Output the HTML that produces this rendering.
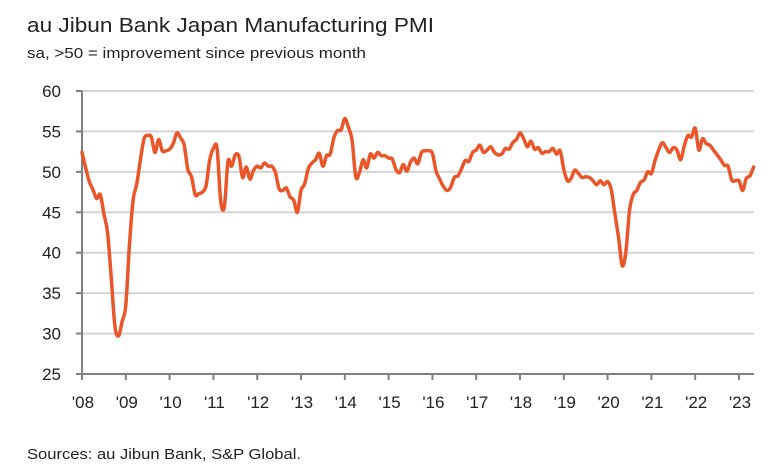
<!DOCTYPE html>
<html><head><meta charset="utf-8"><style>
html,body{margin:0;padding:0;background:#fff;}
svg{display:block;font-family:"Liberation Sans",sans-serif;}
</style></head><body>
<svg id="chart" width="784" height="475" viewBox="0 0 784 475">
<text x="27" y="32" font-size="20" fill="#222" textLength="407" lengthAdjust="spacingAndGlyphs">au Jibun Bank Japan Manufacturing PMI</text>
<text x="27" y="58" font-size="15" fill="#222" textLength="339" lengthAdjust="spacingAndGlyphs">sa, &gt;50 = improvement since previous month</text>
<text x="27" y="459" font-size="15" fill="#222" textLength="274" lengthAdjust="spacingAndGlyphs">Sources: au Jibun Bank, S&amp;P Global.</text>
<g id="grid"></g><g id="axes"></g><g id="series"></g>
</svg>
<script>
const yTicks=[25,30,35,40,45,50,55,60];
const xLabels=["'08","'09","'10","'11","'12","'13","'14","'15","'16","'17","'18","'19","'20","'21","'22","'23"];
const pmi2008=[52.4,50.5,48.8,47.8,46.7,47.2,44.8,42.5,37,31,29.7,31.5];
const pmi2009=[33.5,41,46.5,48.5,51.5,54.1,54.5,54.3,52.4,54,52.6,52.6];
const pmi2010=[52.8,53.5,54.8,54.2,53.3,50.3,49.4,47.2,47.3,47.5,48.3,51.5];
const pmi2011=[52.9,52.9,46.4,45.7,51.3,50.7,52.1,51.9,49.3,50.6,49.1,50.2];
const pmi2012=[50.7,50.5,51.1,50.7,50.7,49.9,47.9,47.7,48.0,46.9,46.5,45.0];
const pmi2013=[47.7,48.5,50.4,51.1,51.5,52.3,50.7,52.0,52.2,54.2,55.1,55.2];
const pmi2014=[56.6,55.5,53.9,49.4,49.9,51.5,50.5,52.2,51.7,52.4,52.0,52.0];
const pmi2015=[51.7,51.6,50.3,49.9,50.9,50.1,51.2,51.7,51.0,52.4,52.6,52.6];
const pmi2016=[52.3,50.1,49.1,48.2,47.7,48.1,49.3,49.5,50.4,51.4,51.3,52.4];
const pmi2017=[52.7,53.3,52.4,52.7,53.1,52.4,52.1,52.2,52.9,52.8,53.6,54.0];
const pmi2018=[54.8,54.1,53.1,53.8,52.8,53.0,52.3,52.5,52.5,52.9,52.2,52.6];
const pmi2019=[50.3,48.9,49.2,50.2,49.8,49.3,49.4,49.3,48.9,48.4,48.9,48.4];
const pmi2020=[48.8,47.8,44.8,41.9,38.4,40.1,45.2,47.2,47.7,48.7,49.0,50.0];
const pmi2021=[49.8,51.4,52.7,53.6,53.0,52.4,53.0,52.7,51.5,53.2,54.5,54.3];
const pmi2022=[55.4,52.7,54.1,53.5,53.3,52.7,52.1,51.5,50.8,50.7,49.0,48.9];
const pmi2023=[48.9,47.7,49.2,49.5,50.6];
const values=[].concat(pmi2008,pmi2009,pmi2010,pmi2011,pmi2012,pmi2013,pmi2014,pmi2015,pmi2016,pmi2017,pmi2018,pmi2019,pmi2020,pmi2021,pmi2022,pmi2023);

const NS="http://www.w3.org/2000/svg";
const X0=82,X1=754,Y0=374,Y1=91,YMIN=25,YMAX=60,YEAR=43.8;
function xMonth(m){return X0+m*YEAR/12;}
function yVal(v){return Y0-(v-YMIN)/(YMAX-YMIN)*(Y0-Y1);}
function mk(tag,attrs,parent){const e=document.createElementNS(NS,tag);for(const k in attrs)e.setAttribute(k,attrs[k]);parent.appendChild(e);return e;}
const grid=document.getElementById('grid'),axes=document.getElementById('axes'),series=document.getElementById('series');
yTicks.forEach(t=>{
  const y=yVal(t);
  if(t>YMIN){const g=mk('line',{x1:X0,x2:X1,y1:y,y2:y,stroke:'#d4d4d4','stroke-width':2},grid);
  
  }
  const tk=mk('line',{x1:X0-6,x2:X0,y1:y,y2:y,stroke:'#808080','stroke-width':2},axes);
  
  
  const tx=mk('text',{x:61,y:y+6,'text-anchor':'end','font-size':17,fill:'#222'},axes);
  tx.textContent=t;
  
  
});
xLabels.forEach((l,i)=>{
  const x=xMonth(i*12);
  const tk=mk('line',{x1:x,x2:x,y1:Y0,y2:Y0+6,stroke:'#808080','stroke-width':2},axes);
  
  
  const tx=mk('text',{x:x+1,y:408,'text-anchor':'middle','font-size':17,fill:'#222'},axes);
  tx.textContent=l;
  
  
});
const ya=mk('line',{x1:X0,x2:X0,y1:Y1,y2:Y0+1,stroke:'#808080','stroke-width':2},axes);


const xa=mk('line',{x1:X0-6,x2:X1,y1:Y0,y2:Y0,stroke:'#808080','stroke-width':2},axes);


const pts=values.map((v,i)=>[xMonth(i),yVal(v)]);
let d='M'+pts[0][0].toFixed(2)+' '+pts[0][1].toFixed(2);
for(let i=0;i<pts.length-1;i++){
  const p0=pts[Math.max(0,i-1)],p1=pts[i],p2=pts[i+1],p3=pts[Math.min(pts.length-1,i+2)];
  const c1x=p1[0]+(p2[0]-p0[0])/6,c1y=p1[1]+(p2[1]-p0[1])/6;
  const c2x=p2[0]-(p3[0]-p1[0])/6,c2y=p2[1]-(p3[1]-p1[1])/6;
  d+=' C'+c1x.toFixed(2)+' '+c1y.toFixed(2)+' '+c2x.toFixed(2)+' '+c2y.toFixed(2)+' '+p2[0].toFixed(2)+' '+p2[1].toFixed(2);
}
const p=mk('path',{d:d,fill:'none',stroke:'#e8562a','stroke-width':3.5,'stroke-linejoin':'round','stroke-linecap':'round'},series);


</script>
</body></html>
